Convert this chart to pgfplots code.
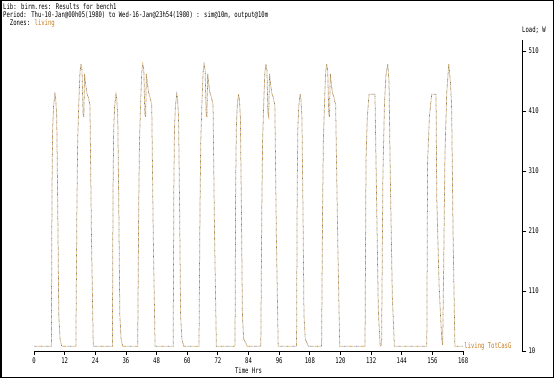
\documentclass[border=0pt]{standalone}
\usepackage{fontspec}
\setmainfont{DejaVu Sans Mono}[FakeStretch=0.72]
\usepackage{pgfplots}
\usepackage{pgfplotstable}
\pgfplotsset{compat=1.18}
\definecolor{trgray}{RGB}{120,120,120}
\definecolor{trorange}{RGB}{210,150,50}
\definecolor{lblorange}{RGB}{200,125,30}
\pgfplotstableread{
h w
0 18
6.8 18
7.05 280
7.3 380
7.7 420
8.2 438
8.5 430
8.9 400
9.3 250
9.7 70
10.2 30
10.8 18
16.4 18
16.8 250
17.1 360
17.6 430
18.0 475
18.4 488
18.8 478
19.2 405
19.5 400
19.8 472
20.2 455
20.7 440
21.3 432
21.9 420
22.5 200
23.2 18
30.7 18
30.95 280
31.2 380
31.6 420
32.1 438
32.4 430
32.8 400
33.2 250
33.6 70
34.1 30
34.7 18
40.6 18
41.0 250
41.3 360
41.8 430
42.2 475
42.6 488
43.0 478
43.4 405
43.7 400
44.0 472
44.4 455
44.9 440
45.5 432
46.1 420
46.7 200
47.4 18
54.5 18
54.75 280
55.0 380
55.4 420
55.9 438
56.2 430
56.6 400
57.0 250
57.4 70
57.9 30
58.6 18
64.6 18
65.0 250
65.3 360
65.8 430
66.2 475
66.6 488
67.0 478
67.4 405
67.7 400
68.0 472
68.4 455
68.9 440
69.5 432
70.1 420
70.7 200
71.4 18
78.7 18
78.95 280
79.2 380
79.6 420
80.1 438
80.4 430
80.8 400
81.2 250
81.6 70
82.1 30
83.5 18
88.8 18
89.2 250
89.5 360
90.0 430
90.4 475
90.8 488
91.2 478
91.6 405
91.9 400
92.2 472
92.6 455
93.1 440
93.7 432
94.3 420
94.9 200
95.6 18
102.8 18
103.05 280
103.3 380
103.7 420
104.2 438
104.5 430
104.9 400
105.3 250
105.7 70
106.2 30
107.4 18
112.6 18
113.0 250
113.3 360
113.8 430
114.2 475
114.6 488
115.0 478
115.4 405
115.7 400
116.0 472
116.4 455
116.9 440
117.5 432
118.1 420
118.9 200
119.7 18
129.6 18
130.0 330
130.5 400
131.2 438
133.5 438
134.0 300
134.8 80
135.5 20
135.8 18
136.1 25
136.6 300
137.2 420
137.8 470
138.5 488
139.0 460
139.5 300
140.3 100
141.1 18
153.8 18
154.1 325
154.8 400
155.7 438
157.4 438
157.7 265
158.6 120
159.6 32
160.0 20
160.4 150
160.9 337
161.6 440
162.4 488
163.0 460
163.5 420
164.1 200
164.8 18
168 18
}\living
\newcommand\tfont{\fontsize{7.8}{8}\selectfont}
\begin{document}
\begin{tikzpicture}
\useasboundingbox (0bp,0bp) rectangle (554bp,378bp);
\fill[white] (0bp,0bp) rectangle (554bp,378bp);
\draw[line width=1.5bp] (0.75bp,0.75bp) rectangle (553.25bp,377.25bp);
\node[anchor=west, inner sep=0, font=\tfont] at (3bp,371bp) {Lib: birm.res: Results for bench1};
\node[anchor=west, inner sep=0, font=\tfont] at (3bp,363bp) {Period: Thu-10-Jan@00h05(1980) to Wed-16-Jan@23h54(1980) : sim@10m, output@10m};
\node[anchor=west, inner sep=0, font=\tfont] at (3bp,355bp) {\phantom{Ze}Zones: \textcolor{lblorange}{living}};
\begin{axis}[
  at={(34bp,27bp)}, anchor=south west,
  scale only axis, width=488bp, height=310.8bp,
  xmin=0, xmax=191.07, ymin=10, ymax=528,
  axis x line=bottom, axis y line=right,
  x axis line style={draw=none},
  axis line style={-, line width=1bp},
  clip=false,
  xtick={0,12,...,168},
  ytick={10,110,210,310,410,510},
  tick align=outside,
  major tick length=4bp,
  tick style={black, line width=0.8bp},
  /pgf/number format/assume math mode=true,
  ticklabel style={font=\tfont},
  xticklabel style={yshift=1bp},
  yticklabel style={xshift=-1bp},
  xlabel={Time Hrs},
  xlabel style={at={(rel axis cs:0.4396,0)}, anchor=north, yshift=-13bp, font=\tfont},
]
\addplot[trgray, line width=0.75bp, dash pattern=on 0.7bp off 1.7bp] table[x=h,y=w] {\living};
\addplot[trorange, line width=0.75bp, dash pattern=on 0.7bp off 1.7bp, dash phase=1.2bp] table[x=h,y=w] {\living};
\draw[line width=1bp] (axis cs:0,10) -- (axis cs:168,10);
\node[anchor=west, inner sep=1bp, text=lblorange, font=\tfont] at (axis cs:168,18) {living TotCasG};
\node[anchor=south west, inner sep=0, font=\tfont] at (rel axis cs:1,1) [yshift=6bp] {Load; W};
\end{axis}
\end{tikzpicture}
\end{document}
